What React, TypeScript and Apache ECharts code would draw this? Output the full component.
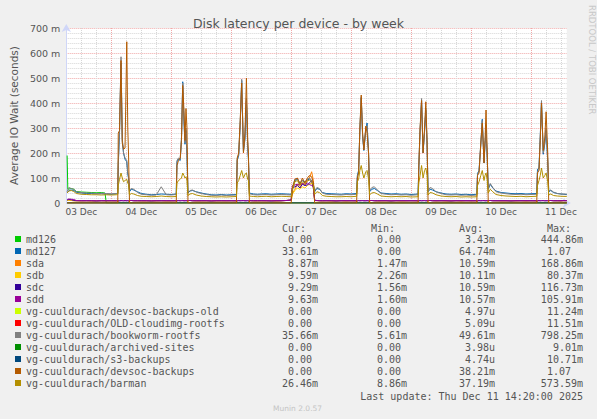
import React, { useEffect, useRef } from "react";
import * as echarts from "echarts";

// time axis: hours since 03 Dec 00:00
const hours = [
  6.33, 7, 8, 9, 10, 12, 14, 16, 18, 20, 22, 24, 26, 26.6,
  26.8, 27.3, 27.9, 28.4, 28.9, 29.5, 30.2, 30.6, 30.9,
  31.3, 32, 33, 34.5, 36, 38, 40, 42, 44, 46, 48, 50,
  50.3, 50.9, 51.6, 52.1, 52.6, 53.1, 53.5, 53.9, 54.3,
  54.7, 55.5, 56.5, 58, 60, 62, 64, 66, 68, 70, 72, 74.1,
  74.4, 75.0, 75.6, 76.2, 76.9, 77.5, 78.1, 78.6, 78.9,
  79.3, 80, 81, 82.5, 84, 86, 88, 90, 92, 94, 96,
  96.5, 97.5, 98.5, 99.5, 100.5, 101.5, 102.5, 103.3, 104.2, 104.9,
  105.4, 106.3, 107.3, 108.5, 110, 112, 114, 116, 118, 120, 122.2,
  122.5, 123.0, 123.5, 124.05, 124.6, 125.1, 125.9, 126.4, 127.0,
  127.4, 128.3, 129.3, 130.5, 132, 134, 136, 138, 140, 142, 144, 146.8,
  147.1, 147.6, 148.2, 148.8, 149.4, 149.9, 150.4,
  150.8, 151.6, 152.6, 154, 156, 158, 160, 162, 164, 166, 168, 170.3,
  170.6, 171.2, 171.9, 172.5, 173.2, 173.6, 174.0, 174.5,
  174.9, 175.7, 176.7, 178, 180, 182, 184, 186, 188, 190, 192, 194.3,
  194.6, 195.2, 195.7, 196.2, 196.9, 197.5, 198.05, 198.7,
  199.1, 199.9, 201, 202.5, 204, 205.2, 206.33,
];

// values in milliseconds (m)
const md127 = [
  40, 50, 52, 50, 43, 40, 38, 38, 37, 37, 36, 35, 37, 38,
  150, 280, 560, 250, 200, 175, 165, 115, 100,
  45, 55, 52, 45, 38, 35, 33, 34, 36, 35, 34, 36,
  165, 175, 170, 255, 485, 325, 235, 290, 190,
  40, 48, 50, 45, 40, 36, 33, 32, 34, 32, 33, 34,
  170, 190, 310, 490, 205, 255, 410, 225, 175,
  40, 38, 36, 35, 36, 37, 35, 36, 37, 36, 35,
  55, 90, 95, 78, 90, 82, 92, 96, 88, 72,
  45, 58, 55, 42, 38, 37, 36, 35, 37, 36, 38,
  110, 130, 285, 420, 265, 210, 295, 320, 195,
  45, 55, 58, 50, 40, 38, 36, 37, 35, 36, 34, 36,
  140, 285, 410, 200, 285, 370, 235,
  45, 55, 52, 45, 40, 36, 35, 36, 34, 35, 33, 35,
  118, 130, 235, 335, 160, 235, 290, 175,
  55, 75, 60, 48, 42, 40, 38, 37, 38, 36, 37, 38,
  135, 140, 265, 405, 195, 235, 290, 165,
  45, 50, 42, 38, 36, 35, 33.61,
];

const sda = [
  10, 11, 10, 9, 9, 8, 9, 8, 8, 9, 8, 9, 8, 9,
  1.6, 1.5, 1.7, 1.5, 1.6, 1.5, 1.6, 1.5, 1.6,
  9, 10, 9, 9, 8, 8, 9, 8, 9, 8, 8, 9,
  1.6, 1.5, 1.7, 1.5, 1.6, 1.5, 1.6, 1.5, 1.6,
  9, 10, 9, 8, 8, 9, 8, 8, 9, 8, 9, 8,
  1.6, 1.5, 1.7, 1.5, 1.6, 1.5, 1.6, 1.5, 1.6,
  9, 9, 8, 8, 9, 8, 9, 8, 9, 10, 12,
  40, 55, 75, 60, 80, 70, 95, 100, 125, 90,
  10, 9, 9, 8, 9, 8, 8, 9, 8, 9, 8,
  1.6, 1.5, 1.7, 1.5, 1.6, 1.5, 1.6, 1.5, 1.6,
  9, 10, 9, 8, 8, 9, 8, 9, 8, 8, 9, 8,
  1.6, 1.5, 1.7, 1.5, 1.6, 1.5, 1.6,
  9, 10, 9, 8, 9, 8, 8, 9, 8, 9, 8, 9,
  1.6, 1.5, 1.7, 1.5, 1.6, 1.5, 1.6, 1.5,
  9, 10, 9, 9, 8, 8, 9, 8, 9, 8, 9, 8,
  1.6, 1.5, 1.7, 1.5, 1.6, 1.5, 1.6, 1.5,
  9, 10, 9, 9, 8, 9, 8.87,
];

const sdb = [
  10, 11, 10, 9, 9, 9, 9, 8, 9, 9, 9, 8, 9, 9,
  2.3, 2.4, 2.3, 2.5, 2.3, 2.4, 2.3, 2.3, 2.4,
  9, 10, 10, 9, 9, 9, 8, 9, 9, 8, 9, 9,
  2.4, 2.3, 2.5, 2.3, 2.4, 2.3, 2.3, 2.4, 2.3,
  9, 10, 10, 9, 9, 8, 9, 9, 8, 9, 9, 9,
  2.3, 2.4, 2.3, 2.5, 2.3, 2.4, 2.3, 2.3, 2.4,
  9, 10, 9, 9, 8, 9, 9, 8, 9, 10, 11,
  35, 50, 60, 55, 65, 60, 70, 75, 80, 60,
  10, 10, 9, 9, 9, 8, 9, 9, 8, 9, 9,
  2.3, 2.4, 2.3, 2.5, 2.3, 2.4, 2.3, 2.3, 2.4,
  9, 10, 10, 9, 9, 8, 9, 9, 8, 9, 9, 9,
  2.3, 2.4, 2.3, 2.5, 2.3, 2.4, 2.3,
  9, 10, 10, 9, 9, 8, 9, 9, 8, 9, 9, 9,
  2.3, 2.4, 2.3, 2.5, 2.3, 2.4, 2.3, 2.3,
  9, 10, 10, 9, 9, 9, 8, 9, 9, 8, 9, 9,
  2.3, 2.4, 2.3, 2.5, 2.3, 2.4, 2.3, 2.3,
  9, 10, 10, 9, 9, 9.5, 9.59,
];

const sdc = [
  12, 14, 13, 10, 9, 9, 9, 9, 8, 9, 9, 9, 9, 9,
  9, 9, 10, 9, 9, 10, 9, 9, 9,
  10, 10, 9, 9, 9, 9, 8, 9, 9, 9, 9, 9,
  9, 10, 9, 9, 10, 9, 9, 9, 9,
  10, 10, 9, 9, 9, 9, 8, 9, 9, 9, 9, 9,
  9, 10, 9, 9, 10, 9, 9, 9, 9,
  10, 9, 9, 9, 9, 9, 8, 9, 9, 10, 12,
  60, 65, 70, 60, 75, 70, 72, 80, 90, 60,
  11, 10, 9, 9, 9, 9, 8, 9, 9, 9, 9,
  9, 10, 9, 9, 10, 9, 9, 9, 9,
  10, 10, 9, 9, 9, 9, 8, 9, 9, 9, 9, 9,
  9, 10, 9, 9, 10, 9, 9,
  10, 10, 9, 9, 9, 9, 8, 9, 9, 9, 9, 9,
  9, 10, 9, 9, 10, 9, 9, 9,
  10, 10, 9, 9, 9, 9, 8, 9, 9, 9, 9, 9,
  9, 10, 9, 9, 10, 9, 9, 9,
  10, 10, 9, 9, 9, 9.3, 9.29,
];

const sdd = [
  14, 16, 15, 14, 10, 9, 9, 9, 9, 9, 9, 9, 9, 9,
  9, 9, 9, 10, 9, 9, 9, 10, 9,
  10, 10, 9, 9, 9, 9, 9, 9, 9, 9, 9, 9,
  9, 9, 9, 10, 9, 9, 9, 10, 9,
  10, 10, 9, 9, 9, 9, 9, 9, 9, 9, 9, 9,
  9, 9, 9, 10, 9, 9, 9, 10, 9,
  10, 9, 9, 9, 9, 9, 9, 9, 9, 10, 12,
  70, 72, 75, 72, 78, 75, 80, 74, 70, 65,
  11, 10, 9, 9, 9, 9, 9, 9, 9, 9, 9,
  9, 9, 9, 10, 9, 9, 9, 10, 9,
  10, 10, 9, 9, 9, 9, 9, 9, 9, 9, 9, 9,
  9, 9, 9, 10, 9, 9, 9,
  10, 10, 9, 9, 9, 9, 9, 9, 9, 9, 9, 9,
  9, 9, 9, 10, 9, 9, 9, 10,
  10, 10, 9, 9, 9, 9, 9, 9, 9, 9, 9, 9,
  9, 9, 9, 10, 9, 9, 9, 10,
  10, 10, 9, 9, 9, 9.6, 9.63,
];

const bookworm = [
  45, 62, 58, 55, 45, 42, 40, 40, 38, 39, 38, 37, 38, 40,
  160, 290, 585, 260, 200, 180, 170, 120, 110,
  50, 58, 55, 42, 35, 33, 31, 32, 65, 33, 32, 34,
  170, 180, 175, 260, 480, 330, 240, 300, 200,
  42, 50, 52, 44, 38, 34, 31, 30, 32, 30, 31, 32,
  175, 195, 320, 495, 210, 260, 420, 230, 180,
  37, 35, 33, 32, 33, 34, 32, 33, 34, 33, 32,
  60, 95, 98, 80, 92, 85, 95, 100, 90, 75,
  48, 62, 58, 40, 35, 34, 33, 32, 34, 33, 35,
  105, 125, 290, 425, 270, 215, 300, 310, 190,
  50, 62, 65, 52, 38, 35, 33, 34, 32, 33, 31, 33,
  145, 290, 418, 205, 290, 380, 240,
  48, 62, 58, 45, 38, 33, 32, 33, 31, 32, 30, 32,
  115, 125, 230, 330, 165, 240, 300, 180,
  58, 78, 62, 45, 40, 37, 35, 34, 35, 33, 34, 35,
  125, 135, 260, 410, 200, 240, 300, 170,
  48, 52, 44, 38, 36, 35.5, 35.66,
];

const devsocBackups = [
  0, 0, 0, 0, 0, 0, 0, 0, 0, 0, 0, 0, 0, 0,
  280, 290, 570, 240, 215, 220, 645, 300, 200,
  0, 0, 0, 0, 0, 0, 0, 0, 0, 0, 0, 0,
  150, 170, 180, 250, 470, 370, 250, 378, 300,
  0, 0, 0, 0, 0, 0, 0, 0, 0, 0, 0, 0,
  180, 200, 330, 480, 200, 280, 500, 260, 200,
  0, 0, 0, 0, 0, 0, 0, 0, 0, 0, 0,
  60, 95, 100, 75, 100, 80, 100, 110, 105, 80,
  0, 0, 0, 0, 0, 0, 0, 0, 0, 0, 0,
  100, 120, 300, 432, 280, 212, 308, 280, 200,
  0, 0, 0, 0, 0, 0, 0, 0, 0, 0, 0, 0,
  150, 300, 410, 200, 300, 405, 250,
  0, 0, 0, 0, 0, 0, 0, 0, 0, 0, 0, 0,
  110, 120, 240, 320, 160, 250, 372, 200,
  0, 0, 0, 0, 0, 0, 0, 0, 0, 0, 0, 0,
  120, 130, 250, 400, 210, 260, 365, 200,
  0, 0, 0, 0, 0, 0, 0,
];

const barman = [
  40, 48, 50, 46, 38, 35, 34, 33, 33, 32, 33, 32, 33, 34,
  70, 95, 120, 100, 85, 90, 95, 80, 75,
  32, 38, 36, 30, 27, 26, 25, 26, 28, 26, 25, 26,
  80, 90, 95, 100, 120, 110, 100, 105, 90,
  30, 36, 38, 32, 28, 26, 25, 24, 25, 24, 25, 26,
  80, 90, 110, 130, 100, 115, 120, 95, 90,
  28, 27, 26, 25, 26, 27, 25, 26, 27, 26, 25,
  50, 85, 90, 70, 85, 75, 88, 92, 85, 70,
  35, 45, 42, 30, 27, 26, 25, 25, 26, 25, 27,
  85, 95, 130, 150, 120, 100, 125, 130, 95,
  33, 40, 42, 36, 28, 26, 25, 26, 25, 26, 24, 25,
  80, 110, 150, 100, 130, 140, 110,
  32, 42, 40, 33, 28, 26, 25, 26, 24, 25, 24, 25,
  70, 85, 110, 130, 90, 110, 120, 90,
  40, 55, 45, 34, 30, 28, 27, 26, 27, 25, 26, 27,
  70, 90, 110, 140, 100, 110, 120, 85,
  32, 36, 30, 28, 27, 26.5, 26.46,
];

// [hour, value] pairs for the sparse series
const md126Pairs = [
  [6.33, 190], [6.6, 55], [8, 58], [9, 55], [10, 46], [12, 44], [14, 43],
  [16, 42], [18, 41], [20, 42], [21.5, 40], [22, 0], [206.33, 0],
];
const devsocOldPairs = [[6.33, 0], [206.33, 0]];
const cloudimgPairs = [[6.33, 0], [206.33, 0]];
const archivedPairs = [[6.33, 0], [206.33, 0]];
const s3Pairs = [[6.33, 0], [206.33, 0]];

const names = [
  "md126",
  "md127",
  "sda",
  "sdb",
  "sdc",
  "sdd",
  "vg-cuuldurach/devsoc-backups-old",
  "vg-cuuldurach/OLD-cloudimg-rootfs",
  "vg-cuuldurach/bookworm-rootfs",
  "vg-cuuldurach/archived-sites",
  "vg-cuuldurach/s3-backups",
  "vg-cuuldurach/devsoc-backups",
  "vg-cuuldurach/barman",
];
const colors = [
  "#00CC00", "#0066B3", "#FF8000", "#FFCC00", "#330099", "#990099",
  "#CCFF00", "#FF0000", "#808080", "#008F00", "#00487D", "#B35A00", "#B38F00",
];
const curVals = ["0.00 ", "33.61m", "8.87m", "9.59m", "9.29m", "9.63m", "0.00 ", "0.00 ", "35.66m", "0.00 ", "0.00 ", "0.00 ", "26.46m"];
const minVals = ["0.00 ", "0.00 ", "1.47m", "2.26m", "1.56m", "1.60m", "0.00 ", "0.00 ", "5.61m", "0.00 ", "0.00 ", "0.00 ", "8.86m"];
const avgVals = ["3.43m", "64.74m", "10.59m", "10.11m", "10.59m", "10.57m", "4.97u", "5.09u", "49.61m", "3.98u", "4.74u", "38.21m", "37.19m"];
const maxVals = ["444.86m", "1.07  ", "168.86m", "80.37m", "116.73m", "105.91m", "11.24m", "11.51m", "798.25m", "9.01m", "10.71m", "1.07  ", "573.59m"];

const dayLabels = ["03 Dec", "04 Dec", "05 Dec", "06 Dec", "07 Dec", "08 Dec", "09 Dec", "10 Dec", "11 Dec"];

const zip = (vals: number[]) => hours.map((h, i) => [h, vals[i]]);

const seriesData: number[][][] = [
  md126Pairs,
  zip(md127),
  zip(sda),
  zip(sdb),
  zip(sdc),
  zip(sdd),
  devsocOldPairs,
  cloudimgPairs,
  zip(bookworm),
  archivedPairs,
  s3Pairs,
  zip(devsocBackups),
  zip(barman),
];

const SANS = "DejaVu Sans";
const MONO = "DejaVu Sans Mono";
const TXT = "#555";
const MINOR = "#d6d6d6";
const MAJOR = "#f0a8a8";
const AXIS = "#cfd6f8";

export default function App() {
  const ref = useRef<HTMLDivElement>(null);
  useEffect(() => {
    if (!ref.current) return;
    const chart = echarts.init(ref.current, undefined, { renderer: "svg" });
    const nb = (s: string) => s.replace(/ /g, "\u00a0");
    const monoStyle = { fontFamily: MONO, fontSize: 10, color: TXT, lineHeight: 12 };
    chart.setOption({
      animation: false,
      backgroundColor: "#f0f0f0",
      title: {
        text: "Disk latency per device - by week",
        left: "center",
        top: 12,
        textStyle: { fontFamily: SANS, fontSize: 12.5, fontWeight: "normal", color: TXT },
      },
      grid: {
        left: 66,
        top: 28,
        width: 500.8,
        height: 175,
        show: true,
        backgroundColor: "#ffffff",
        borderWidth: 0,
      },
      xAxis: {
        type: "value",
        min: 6,
        max: 206.33,
        interval: 6,
        axisLine: {
          show: true,
          lineStyle: { color: AXIS, width: 1 },
          symbol: ["none", "arrow"],
          symbolSize: [7, 8],
          symbolOffset: [0, 4],
        },
        axisTick: { show: false },
        splitLine: {
          show: true,
          showMaxLine: false,
          lineStyle: { color: [MINOR, MINOR, MINOR, MAJOR], type: [1, 1], width: 1 },
        },
        axisLabel: {
          fontFamily: SANS,
          fontSize: 9,
          color: TXT,
          margin: 4,
          showMaxLabel: false,
          formatter: (v: number) => {
            const h = Math.round(v);
            if (h % 24 !== 12) return "";
            return dayLabels[(h - 12) / 24] ?? "";
          },
        },
      },
      yAxis: {
        type: "value",
        min: 0,
        max: 700,
        interval: 20,
        name: "Average IO Wait (seconds)",
        nameLocation: "middle",
        nameGap: 47,
        nameTextStyle: { fontFamily: SANS, fontSize: 10.5, color: TXT },
        axisLine: {
          show: true,
          lineStyle: { color: AXIS, width: 1 },
          symbol: ["none", "arrow"],
          symbolSize: [7, 8],
          symbolOffset: [0, 4],
        },
        axisTick: { show: false },
        splitLine: {
          show: true,
          lineStyle: { color: [MAJOR, MINOR, MINOR, MINOR, MINOR], type: [1, 1], width: 1 },
        },
        axisLabel: {
          fontFamily: SANS,
          fontSize: 9.5,
          color: TXT,
          margin: 6,
          formatter: (v: number) => {
            const r = Math.round(v);
            if (r % 100 !== 0) return "";
            return r === 0 ? "0" : `${r} m`;
          },
        },
      },
      legend: {
        orient: "vertical",
        left: 15,
        top: 233,
        padding: 0,
        itemGap: 0,
        itemWidth: 6,
        itemHeight: 6,
        icon: "rect",
        selectedMode: false,
        data: names,
        textStyle: {
          ...monoStyle,
          rich: {
            n: { ...monoStyle, width: 204 },
            c: { ...monoStyle, width: 88, align: "right" },
            mi: { ...monoStyle, width: 89, align: "right" },
            a: { ...monoStyle, width: 88, align: "right" },
            mx: { ...monoStyle, width: 88, align: "right" },
          },
        },
        formatter: (name: string) => {
          const i = names.indexOf(name);
          return `{n|${name}}{c|${nb(curVals[i])}}{mi|${nb(minVals[i])}}{a|${nb(avgVals[i])}}{mx|${nb(maxVals[i])}}`;
        },
      },
      graphic: [
        { type: "text", x: 282, y: 228, style: { text: "Cur:", fontFamily: MONO, fontSize: 10, fill: TXT, verticalAlign: "middle" } },
        { type: "text", x: 371, y: 228, style: { text: "Min:", fontFamily: MONO, fontSize: 10, fill: TXT, verticalAlign: "middle" } },
        { type: "text", x: 459, y: 228, style: { text: "Avg:", fontFamily: MONO, fontSize: 10, fill: TXT, verticalAlign: "middle" } },
        { type: "text", x: 547, y: 228, style: { text: "Max:", fontFamily: MONO, fontSize: 10, fill: TXT, verticalAlign: "middle" } },
        {
          type: "text",
          x: 583,
          y: 396,
          style: {
            text: "Last update: Thu Dec 11 14:20:00 2025",
            fontFamily: MONO,
            fontSize: 10,
            fill: TXT,
            align: "right",
            verticalAlign: "middle",
          },
        },
        {
          type: "text",
          x: 273,
          y: 408,
          style: { text: "Munin 2.0.57", fontFamily: SANS, fontSize: 7.5, fill: "#c4c4c4", verticalAlign: "middle" },
        },
        {
          type: "text",
          x: 592,
          y: 5,
          rotation: -Math.PI / 2,
          style: {
            text: "RRDTOOL / TOBI OETIKER",
            fontFamily: SANS,
            fontSize: 8.5,
            fill: "#c8c8c8",
            align: "left",
            verticalAlign: "middle",
          },
        },
      ],
      series: names.map((name, i) => ({
        type: "line",
        name,
        data: seriesData[i],
        symbol: "none",
        showSymbol: false,
        silent: true,
        lineStyle: { width: 1, color: colors[i] },
        itemStyle: { color: colors[i] },
      })),
    });
    return () => chart.dispose();
  }, []);
  return (
    <div
      ref={ref}
      style={{ position: "fixed", left: 0, top: 0, width: 597, height: 419, background: "#f0f0f0" }}
    />
  );
}
